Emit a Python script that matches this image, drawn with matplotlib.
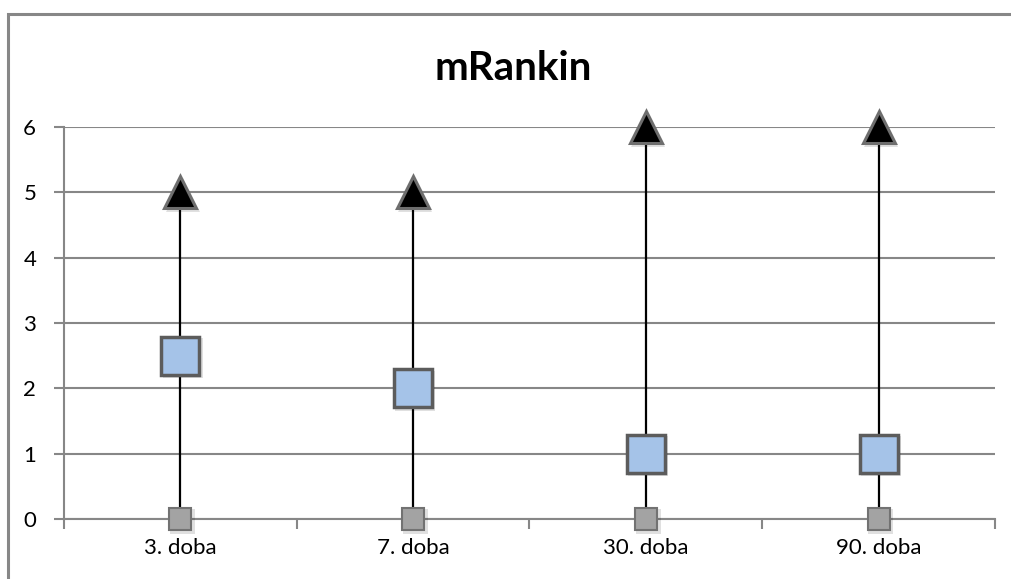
import matplotlib
matplotlib.use('Agg')
import matplotlib.pyplot as plt
from matplotlib.patches import Rectangle

plt.rcParams['font.family'] = ['Lato', 'DejaVu Sans']

days = ['3. doba', '7. doba', '30. doba', '90. doba']
lows = [0, 0, 0, 0]
medians = [2.5, 2, 1, 1]
highs = [5, 5, 6, 6]

grid_col = '#878787'

fig = plt.figure(figsize=(10.12, 5.79), dpi=100)
ax = fig.add_axes([0.0632, 0.1036, 0.9200, 0.6771])

x = list(range(len(days)))

# high-low lines
ax.vlines(x, lows, highs, color='black', lw=1.6, zorder=3)

# soft drop shadows under the markers
sh = dict(linestyle='none', alpha=0.12, zorder=3.5, markeredgewidth=0, clip_on=False)
ax.plot([v + 0.01 for v in x], [v - 0.04 for v in highs], marker='^', ms=25, color='black', **sh)
ax.plot([v + 0.01 for v in x], [v - 0.04 for v in medians], marker='s', ms=29, color='black', **sh)
ax.plot([v + 0.008 for v in x], [v - 0.03 for v in lows], marker='s', ms=18, color='black', **sh)

ax.plot(x, highs, linestyle='none', marker='^', ms=23, mfc='black', mec='#6e6e6e', mew=2.2,
        zorder=4, clip_on=False)
ax.plot(x, medians, linestyle='none', marker='s', ms=27, mfc='#a5c3e8', mec='#5c5c5c', mew=2.5,
        zorder=4, clip_on=False)
ax.plot(x, lows, linestyle='none', marker='s', ms=16.5, mfc='#a3a3a3', mec='#727272', mew=1.5,
        zorder=4, clip_on=False)

ax.set_xlim(-0.5, len(days) - 0.5)
ax.set_ylim(0, 6)
ax.set_yticks(range(0, 7))
ax.yaxis.grid(True, color=grid_col, lw=1.5)
ax.set_axisbelow(True)

ax.set_xticks([v - 0.5 for v in range(len(days) + 1)])
ax.set_xticklabels([])
ax.set_xticks(x, minor=True)
ax.set_xticklabels(days, minor=True)
ax.tick_params(axis='x', which='minor', length=0, pad=14, labelsize=16)
ax.tick_params(axis='x', which='major', length=7, width=1.5, color=grid_col, direction='out')
ax.tick_params(axis='y', length=7, width=1.5, color=grid_col, pad=13, labelsize=16)

for side in ('top', 'right'):
    ax.spines[side].set_visible(False)
for side in ('left', 'bottom'):
    ax.spines[side].set_color(grid_col)
    ax.spines[side].set_linewidth(1.5)

fig.text(0.507, 0.882, 'mRankin', ha='center', va='center', fontsize=29, fontweight='bold')

# chart border
fig.patches.append(Rectangle((8 / 1012, -0.05), 1.2, 1 - 14 / 579 + 0.05,
                             transform=fig.transFigure, fill=False,
                             edgecolor=grid_col, lw=2.2))

fig.savefig('out.png', dpi=100, facecolor='white')
